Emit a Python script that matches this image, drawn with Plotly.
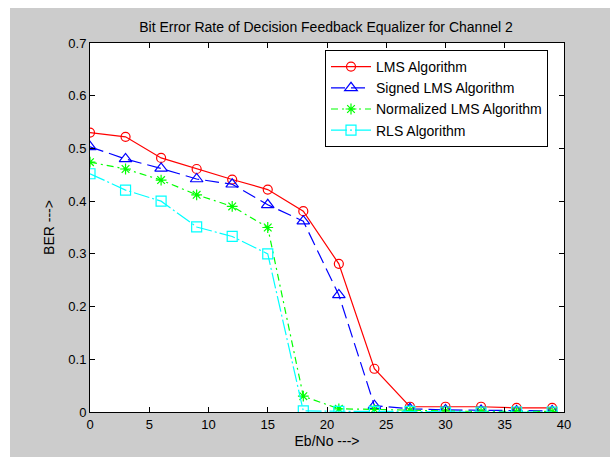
import plotly.graph_objects as go

ebno = [0, 3, 6, 9, 12, 15, 18, 21, 24, 27, 30, 33, 36, 39]
ber_lms = [0.530, 0.522, 0.482, 0.461, 0.441, 0.422, 0.381, 0.281, 0.082, 0.010, 0.010, 0.010, 0.008, 0.008]
ber_signed = [0.503, 0.480, 0.462, 0.442, 0.432, 0.393, 0.362, 0.222, 0.012, 0.006, 0.004, 0.003, 0.002, 0.002]
ber_nlms = [0.474, 0.461, 0.440, 0.412, 0.390, 0.350, 0.030, 0.006, 0.005, 0.003, 0.002, 0.001, 0.001, 0.001]
ber_rls = [0.452, 0.421, 0.400, 0.351, 0.333, 0.300, 0.002, 0.001, 0.001, 0.001, 0.000, 0.000, 0.000, 0.000]

series = [
    ("LMS Algorithm", ber_lms, "#ff0000", "solid", "circle-open", 9),
    ("Signed LMS Algorithm", ber_signed, "#0000ff", "14px,6px", "triangle-up-open", 11),
    ("Normalized LMS Algorithm", ber_nlms, "#00ff00", "7px,4px,2px,4px", "asterisk-open", 9),
    ("RLS Algorithm", ber_rls, "#00ffff", "16px,3px,2px,3px", "square-open", 10),
]

fig = go.Figure()
for name, y, color, dash, sym, size in series:
    fig.add_trace(go.Scatter(
        x=ebno, y=y, name=name, mode="lines+markers",
        line=dict(color=color, width=1.2, dash=dash),
        marker=dict(symbol=sym, size=size, color=color, line=dict(color=color, width=1.2)),
    ))

W, H = 610, 457
L, R, T, B = 90, 46, 43, 45
pw, ph = W - L - R, H - T - B

def px(xpix):
    return (xpix - L) / pw

def py(ypix):
    return (H - B - ypix) / ph

shapes = [
    dict(type="rect", xref="paper", yref="paper", x0=px(0), x1=px(W), y0=py(0), y1=py(8),
         fillcolor="white", line=dict(width=0), layer="below"),
    dict(type="rect", xref="paper", yref="paper", x0=px(0), x1=px(10), y0=py(0), y1=py(H),
         fillcolor="white", line=dict(width=0), layer="below"),
]

FONT = "Liberation Sans, Arial"
axis_common = dict(
    showgrid=False, zeroline=False, showline=True, linecolor="black", linewidth=1,
    mirror="ticks", ticks="inside", ticklen=5, tickcolor="black",
    tickfont=dict(family=FONT, size=13, color="black"),
)

fig.update_layout(
    width=W, height=H,
    margin=dict(l=L, r=R, t=T, b=B),
    paper_bgcolor="#cccccc", plot_bgcolor="white",
    shapes=shapes,
    title=dict(text="Bit Error Rate of Decision Feedback Equalizer for Channel 2",
               x=326 / W, xanchor="center", y=1 - 27 / H, yanchor="middle",
               font=dict(family=FONT, size=14, color="black")),
    xaxis=dict(range=[0, 40], tickvals=[0, 5, 10, 15, 20, 25, 30, 35, 40],
               title=dict(text="Eb/No --->", standoff=5,
                          font=dict(family=FONT, size=14, color="black")),
               **axis_common),
    yaxis=dict(range=[0, 0.7], tickvals=[0, 0.1, 0.2, 0.3, 0.4, 0.5, 0.6, 0.7],
               ticktext=["0", "0.1", "0.2", "0.3", "0.4", "0.5", "0.6", "0.7"],
               title=dict(text="BER --->", standoff=10,
                          font=dict(family=FONT, size=14, color="black")),
               **axis_common),
    legend=dict(x=px(325), xanchor="left", y=py(50), yanchor="top",
                bgcolor="white", bordercolor="black", borderwidth=1,
                font=dict(family=FONT, size=14, color="black"),
                tracegroupgap=0, itemwidth=40),
    showlegend=True,
)

fig.write_html("out.html")
